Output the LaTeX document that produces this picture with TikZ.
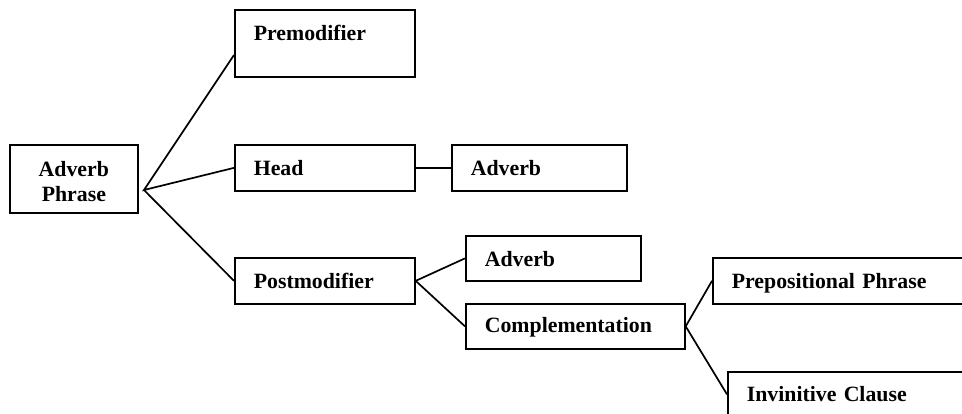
\documentclass[tikz,border=0pt]{standalone}
\usepackage{fontspec}
\setmainfont{Liberation Serif}
\usetikzlibrary{calc}
\begin{document}
\begin{tikzpicture}[x=1pt,y=-1pt,
  every node/.style={font=\fontsize{21.8}{25}\selectfont\bfseries},
  box/.style={draw,line width=1.7pt,rectangle,anchor=north west,
    inner xsep=19pt,inner ysep=0pt,align=left,text height=31pt,text depth=15pt},
  link/.style={line width=1.7pt}]
  \useasboundingbox (0,0) rectangle (962,413);
  \clip (0,0) rectangle (962,413);
  % root
  \node[draw,line width=1.7pt,rectangle,anchor=north west,inner sep=0pt,
        minimum width=128pt,minimum height=68pt,align=center]
        (ap) at (9,144) {\rule{0pt}{28pt}Adverb\\Phrase\strut};
  \coordinate (apfork) at (144,190);
  % first level
  \node[box,text width=142pt,text depth=36pt] (pre) at (234,9) {Premodifier};
  \node[box,text width=142pt] (head) at (234,144) {Head};
  \node[box,text width=142pt] (post) at (234,257) {Postmodifier};
  % second level
  \node[box,text width=137pt] (adv) at (451,144) {Adverb};
  \node[box,text width=137pt,text depth=14pt] (adv2) at (465,235) {Adverb};
  \node[box,text width=181pt,text height=29pt,text depth=16pt] (comp) at (465,303) {Complementation};
  % third level
  \node[box,text width=260pt] (prep) at (712,257) {Prepositional Phrase};
  \node[box,text width=260pt,text height=30pt] (inf) at (727,371) {Invinitive Clause};
  % connectors
  \draw[link] (pre.west |- 0,55) -- (apfork) -- (head.west);
  \draw[link] (apfork) -- (post.west);
  \draw[link] (head.east) -- (adv.west);
  \draw[link] (adv2.west) -- (post.east) -- (comp.west);
  \draw[link] (prep.west) -- (comp.east) -- (inf.west);
\end{tikzpicture}
\end{document}
